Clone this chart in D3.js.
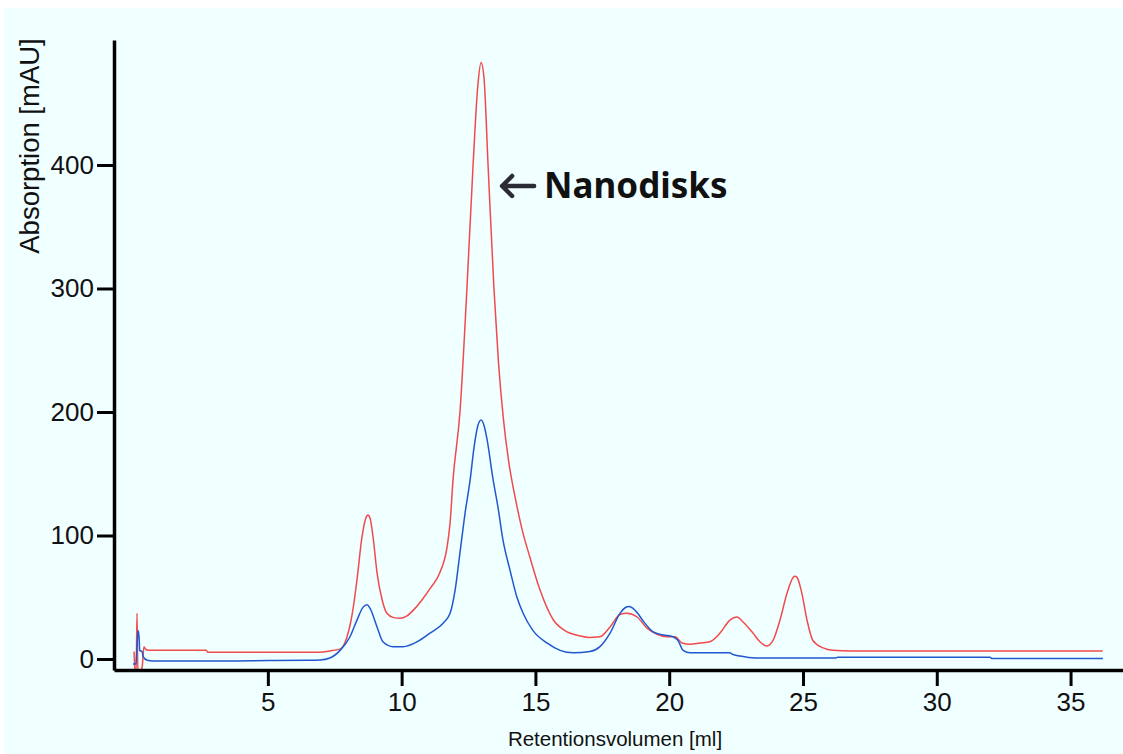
<!DOCTYPE html>
<html>
<head>
<meta charset="utf-8">
<script src="https://cdn.jsdelivr.net/npm/d3@7/dist/d3.min.js"></script>
<style>
  html, body { margin: 0; padding: 0; background: #ffffff; }
  svg { display: block; }
</style>
</head>
<body>
<svg id="chart" width="1123" height="754"></svg>
<script>
// Size-exclusion chromatogram: absorption traces vs. retention volume

// Red trace: retention volume [ml] and absorption [mAU]
const redVolume = [0.00, 0.03, 0.08, 0.11, 0.14, 0.26, 0.30, 0.37, 0.43, 0.52, 2.70, 2.75, 6.95, 7.30, 7.70, 7.96, 8.18, 8.33, 8.52, 8.66, 8.74, 8.82, 8.93, 9.08, 9.27, 9.45, 9.70, 9.94, 10.20, 10.50, 10.80, 11.06, 11.43, 11.70, 11.81, 11.92, 12.18, 12.44, 12.67, 12.85, 12.97, 13.08, 13.23, 13.45, 13.62, 13.80, 14.00, 14.25, 14.50, 14.80, 15.17, 15.66, 16.10, 16.60, 17.00, 17.41, 17.79, 18.16, 18.42, 18.80, 19.17, 19.55, 19.92, 20.22, 20.48, 20.78, 21.15, 21.52, 21.90, 22.27, 22.53, 22.76, 23.13, 23.39, 23.65, 23.88, 24.14, 24.40, 24.63, 24.70, 24.78, 24.96, 25.15, 25.37, 25.75, 26.12, 26.76, 36.20];
const redAbs    = [6, -9, -9, 37, -9, -9, -7, 10, 8, 7, 7, 5.5, 5.5, 6.5, 8, 18, 40, 64, 99, 114, 116.6, 114, 99, 70, 48, 37, 33.5, 33, 35, 41, 49, 57, 70, 91, 110, 145, 200, 300, 400, 465, 483, 470, 400, 300, 240, 195, 160, 130, 105, 82, 56, 32, 23, 19, 17.5, 18, 26, 36, 37, 34, 25, 20, 18, 18, 13, 12, 13, 14, 21, 31.5, 34, 30, 21, 14, 10.5, 15, 31.5, 53, 66, 67, 66, 53, 31.5, 15, 9, 7, 6.5, 6.5];

// Blue trace: retention volume [ml] and absorption [mAU]
const blueVolume = [-0.04, 0.07, 0.11, 0.15, 0.19, 0.21, 0.30, 0.34, 0.49, 0.71, 3.50, 5.00, 6.50, 6.95, 7.32, 7.70, 8.07, 8.33, 8.56, 8.71, 8.82, 9.08, 9.30, 9.68, 10.05, 10.58, 11.06, 11.55, 11.81, 12.00, 12.18, 12.37, 12.56, 12.71, 12.85, 12.97, 13.08, 13.19, 13.42, 13.60, 13.79, 14.05, 14.31, 14.54, 14.91, 15.43, 15.92, 16.41, 17.04, 17.41, 17.79, 18.16, 18.35, 18.50, 18.65, 18.82, 19.02, 19.40, 19.77, 20.14, 20.33, 20.52, 20.78, 21.90, 22.27, 22.35, 22.65, 23.21, 26.20, 26.30, 31.99, 32.05, 36.21];
const blueAbs    = [-4, -4, 10, 23, 17, 7, 6, 2, -1, -1.6, -1.6, -1.2, -1, -0.8, 0.8, 7, 18, 31.5, 42, 44, 41, 26, 14, 10, 10, 14, 21, 29, 37, 56, 86, 118, 145, 172, 189, 193.5, 189, 178, 145, 123, 96, 72, 50, 37, 23, 13, 7, 5, 6, 10, 21, 37, 41.5, 42.5, 41, 37, 31, 22, 19.5, 18, 15, 7, 5, 5, 5, 4, 2.4, 0.8, 0.8, 1.5, 1.5, 0.5, 0.5];

// Axis ticks and titles
const xTicks = [5, 10, 15, 20, 25, 30, 35];
const yTicks = [0, 100, 200, 300, 400];
const xTitle = "Retentionsvolumen [ml]";
const yTitle = "Absorption [mAU]";

// Peak annotation: arrow tip position in data units and its label
const noteVolume = 13.68;
const noteAbs = 383;
const noteText = "Nanodisks";

const svg = d3.select("#chart");
const W = 1123, H = 754;

// light azure panel
svg.append("rect").attr("x", 4).attr("y", 8).attr("width", W - 4).attr("height", H - 8).attr("fill", "#f0ffff");

const x = d3.scaleLinear().domain([-0.75, 36.96]).range([114, 1123]);
const y = d3.scaleLinear().domain([-8.9, 501.2]).range([670, 40]);

const line = d3.line()
  .x(d => x(d[0]))
  .y(d => y(d[1]))
  .curve(d3.curveMonotoneX);

const redData = d3.zip(redVolume, redAbs);
const blueData = d3.zip(blueVolume, blueAbs);

svg.append("defs").append("clipPath").attr("id", "plotClip")
  .append("rect").attr("x", 114).attr("y", 30).attr("width", W - 114).attr("height", 640);

const plot = svg.append("g").attr("clip-path", "url(#plotClip)");

plot.append("path").datum(redData)
  .attr("d", line)
  .attr("fill", "none")
  .attr("stroke", "#f24a4a")
  .attr("stroke-width", 1.5)
  .attr("stroke-linejoin", "round");

plot.append("path").datum(blueData)
  .attr("d", line)
  .attr("fill", "none")
  .attr("stroke", "#2157cf")
  .attr("stroke-width", 1.5)
  .attr("stroke-linejoin", "round");

// Axes
const fontFam = "'Liberation Sans', Arial, sans-serif";

const yAxis = svg.append("g")
  .attr("transform", "translate(114,0)")
  .call(d3.axisLeft(y).tickValues(yTicks).tickSize(17).tickSizeOuter(0).tickPadding(3).tickFormat(d3.format("d")));

const xAxis = svg.append("g")
  .attr("transform", "translate(0,670)")
  .call(d3.axisBottom(x).tickValues(xTicks).tickSize(16).tickSizeOuter(0).tickPadding(7).tickFormat(d3.format("d")));

[yAxis, xAxis].forEach(g => {
  g.select(".domain").attr("stroke", "#000").attr("stroke-width", 3.5);
  g.selectAll(".tick line").attr("stroke", "#000").attr("stroke-width", 3);
  g.selectAll(".tick text").attr("fill", "#111").style("font-family", fontFam).style("font-size", "26px");
});

// Axis titles
svg.append("text")
  .attr("transform", `translate(39,${(39 + 253) / 2}) rotate(-90)`)
  .attr("text-anchor", "middle")
  .style("font-family", fontFam)
  .style("font-size", "27.5px")
  .attr("fill", "#111")
  .text(yTitle);

svg.append("text")
  .attr("x", 615)
  .attr("y", 746)
  .attr("text-anchor", "middle")
  .style("font-family", fontFam)
  .style("font-size", "20.5px")
  .attr("fill", "#111")
  .text(xTitle);

// Annotation arrow and label
const ax = x(noteVolume), ay = y(noteAbs);
svg.append("path")
  .attr("d", `M${ax + 34},${ay} L${ax + 2},${ay} M${ax + 12},${ay - 10} L${ax + 2},${ay} L${ax + 12},${ay + 10}`)
  .attr("fill", "none")
  .attr("stroke", "#2b2b35")
  .attr("stroke-width", 4.5)
  .attr("stroke-linecap", "round")
  .attr("stroke-linejoin", "round");

svg.append("text")
  .attr("x", ax + 44)
  .attr("y", ay + 12)
  .style("font-family", "'Noto Sans', sans-serif")
  .style("font-weight", 700)
  .style("font-size", "35px")
  .attr("fill", "#111")
  .text(noteText);
</script>
</body>
</html>
